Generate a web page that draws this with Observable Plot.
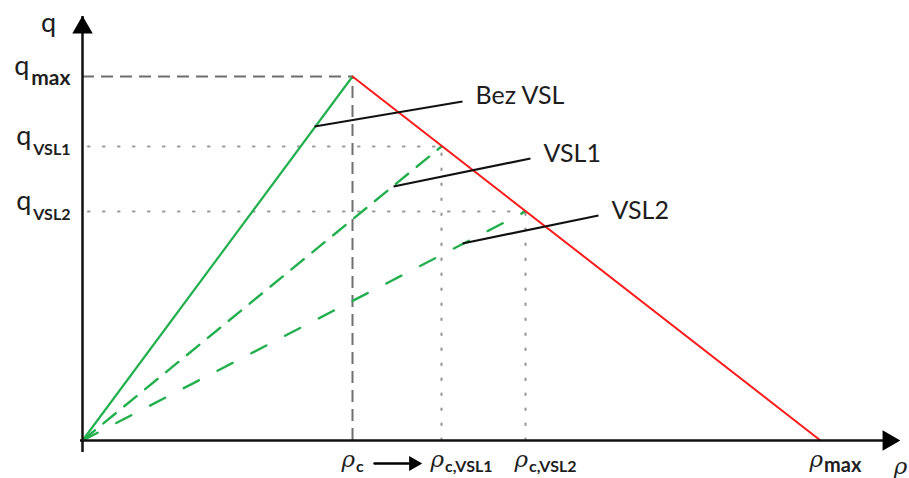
<!DOCTYPE html>
<html>
<head>
<meta charset="utf-8">
<script src="https://cdn.jsdelivr.net/npm/d3@7"></script>
<script src="https://cdn.jsdelivr.net/npm/@observablehq/plot@0.6"></script>
<style>
  html, body { margin: 0; padding: 0; background: #fff; }
  #chart svg { display: block; }
</style>
</head>
<body>
<div id="chart"></div>
<script>
// ---- values (arbitrary units) ----
const rhoC = 270, rhoVSL1 = 359, rhoVSL2 = 443, rhoMax = 738;
const qMax = 364, qVSL1 = 294, qVSL2 = 229;
const rhoAxisEnd = 818, qAxisEnd = 425;

// free-flow branches (origin -> critical point)
const freeFlow = [{rho: 0, q: 0}, {rho: rhoC, q: qMax}];
const freeFlowVSL1 = [{rho: 0, q: 0}, {rho: rhoVSL1, q: qVSL1}];
const freeFlowVSL2 = [{rho: 0, q: 0}, {rho: rhoVSL2, q: qVSL2}];
// congested branch
const congested = [{rho: rhoC, q: qMax}, {rho: rhoMax, q: 0}];

// tick labels ("_" separates base from subscript)
const yTicks = [
  {q: qMax, rho: rhoC, label: "q_max"},
  {q: qVSL1, rho: rhoVSL1, label: "q_VSL1"},
  {q: qVSL2, rho: rhoVSL2, label: "q_VSL2"}
];
const xTicks = [
  {rho: rhoC, label: "ρ_c"},
  {rho: rhoVSL1, label: "ρ_c,VSL1"},
  {rho: rhoVSL2, label: "ρ_c,VSL2"},
  {rho: rhoMax, label: "ρ_max"}
];
// annotation leaders: from a point on a line to the label
const notes = [
  {label: "Bez VSL", rho1: 232, q1: 314, rho2: 380, q2: 339, tq: 345},
  {label: "VSL1", rho1: 311, q1: 254, rho2: 448, q2: 282, tq: 287},
  {label: "VSL2", rho1: 380, q1: 197, rho2: 516, q2: 225, tq: 230}
];
// shift of the critical density
const shift = [{from: rhoC, to: rhoVSL1}];

const green = "#22b04e", red = "#ff1a1a", grey = "#6f6f6f", dotGrey = "#9a9a9a";
const txt = "#1e1e1e";
const sans = "Lato, 'Open Sans', sans-serif";

const plot = Plot.plot({
  width: 909,
  height: 478,
  margin: 0,
  x: {domain: [0, rhoAxisEnd], range: [82, 900], axis: null},
  y: {domain: [0, qAxisEnd], range: [440, 15], axis: null},
  marks: [
    // reference lines
    Plot.ruleY([yTicks[0]], {y: "q", x1: 0, x2: "rho", stroke: grey, strokeWidth: 2, strokeDasharray: "12,7"}),
    Plot.ruleX([yTicks[0]], {x: "rho", y1: 0, y2: "q", stroke: grey, strokeWidth: 2, strokeDasharray: "12,7"}),
    Plot.ruleY(yTicks.slice(1), {y: "q", x1: 0, x2: "rho", stroke: dotGrey, strokeWidth: 2.2, strokeDasharray: "1.5,13.5", strokeLinecap: "round", insetLeft: 6}),
    Plot.ruleX(yTicks.slice(1), {x: "rho", y1: 0, y2: "q", stroke: dotGrey, strokeWidth: 2.2, strokeDasharray: "1.5,13.5", strokeLinecap: "round", insetBottom: 6}),
    // fundamental diagram
    Plot.line(freeFlowVSL1, {x: "rho", y: "q", stroke: green, strokeWidth: 2.4, strokeDasharray: "16,11"}),
    Plot.line(freeFlowVSL2, {x: "rho", y: "q", stroke: green, strokeWidth: 2.4, strokeDasharray: "17,21"}),
    Plot.line(freeFlow, {x: "rho", y: "q", stroke: green, strokeWidth: 2.2}),
    Plot.line(congested, {x: "rho", y: "q", stroke: red, strokeWidth: 2}),
    // leaders and labels
    Plot.link(notes, {x1: "rho1", y1: "q1", x2: "rho2", y2: "q2", stroke: "#111", strokeWidth: 2.2}),
    Plot.text(notes, {x: "rho2", y: "tq", text: "label", textAnchor: "start", dx: 13, fontSize: 25, fontFamily: sans, fill: txt}),
    // axes
    Plot.ruleY([0], {x1: 0, x2: rhoAxisEnd, stroke: "#111", strokeWidth: 2.5, insetLeft: -2, insetRight: 12}),
    Plot.ruleX([0], {y1: 0, y2: qAxisEnd, stroke: "#111", strokeWidth: 2.5, insetTop: 12, insetBottom: -1}),
    Plot.dot([{rho: 0, q: qAxisEnd}], {x: "rho", y: "q", symbol: "triangle", r: 7.6, fill: "#000", stroke: "none", dy: 12}),
    Plot.dot([{rho: rhoAxisEnd, q: 0}], {x: "rho", y: "q", symbol: "triangle", r: 7.6, fill: "#000", stroke: "none", rotate: 90, dx: -12}),
    Plot.text(["q"], {x: 0, y: qAxisEnd, text: d => d, dx: -34, dy: 8, fontSize: 27, fontFamily: sans, fill: txt}),
    Plot.text(["ρ"], {x: rhoAxisEnd, y: 0, text: d => d, dx: 0, dy: 26, fontSize: 23, fontFamily: "'DejaVu Serif', serif", fontStyle: "italic", fill: txt}),
    // tick labels
    Plot.text(yTicks, {x: 0, y: "q", text: "label", textAnchor: "end", dx: -12, dy: -10, fontSize: 27, fontFamily: sans, fill: txt}),
    Plot.text(xTicks, {x: "rho", y: 0, text: "label", textAnchor: "start", dx: -11, dy: 19, fontSize: 23, fontFamily: "'DejaVu Serif', serif", fill: txt}),
    // arrow between rho_c and rho_c,VSL1
    Plot.arrow(shift, {x1: "from", x2: "to", y1: 0, y2: 0, dy: 23, insetStart: 22, insetEnd: 33, headLength: 0, stroke: "#000", strokeWidth: 2.4}),
    Plot.dot(shift, {x: "to", y: 0, dx: -28, dy: 23, symbol: "triangle", r: 5.6, rotate: 90, fill: "#000", stroke: "none"})
  ]
});

// build subscripts as tspans
d3.select(plot).selectAll("text").each(function() {
  const el = d3.select(this);
  const s = this.textContent;
  if (!s.includes("_")) return;
  const [base, sub] = s.split("_");
  el.text(null);
  const isRho = base === "ρ";
  el.append("tspan").text(base)
    .attr("font-style", isRho ? "italic" : null);
  const big = sub === "max";
  el.append("tspan").text(sub)
    .attr("font-family", sans)
    .attr("font-weight", "bold")
    .attr("font-style", "normal")
    .attr("font-size", big ? (isRho ? 20 : 21) : 16)
    .attr("dy", isRho ? 5 : 10)
    .attr("dx", isRho ? 1 : 2);
});
document.getElementById("chart").append(plot);
</script>
</body>
</html>
